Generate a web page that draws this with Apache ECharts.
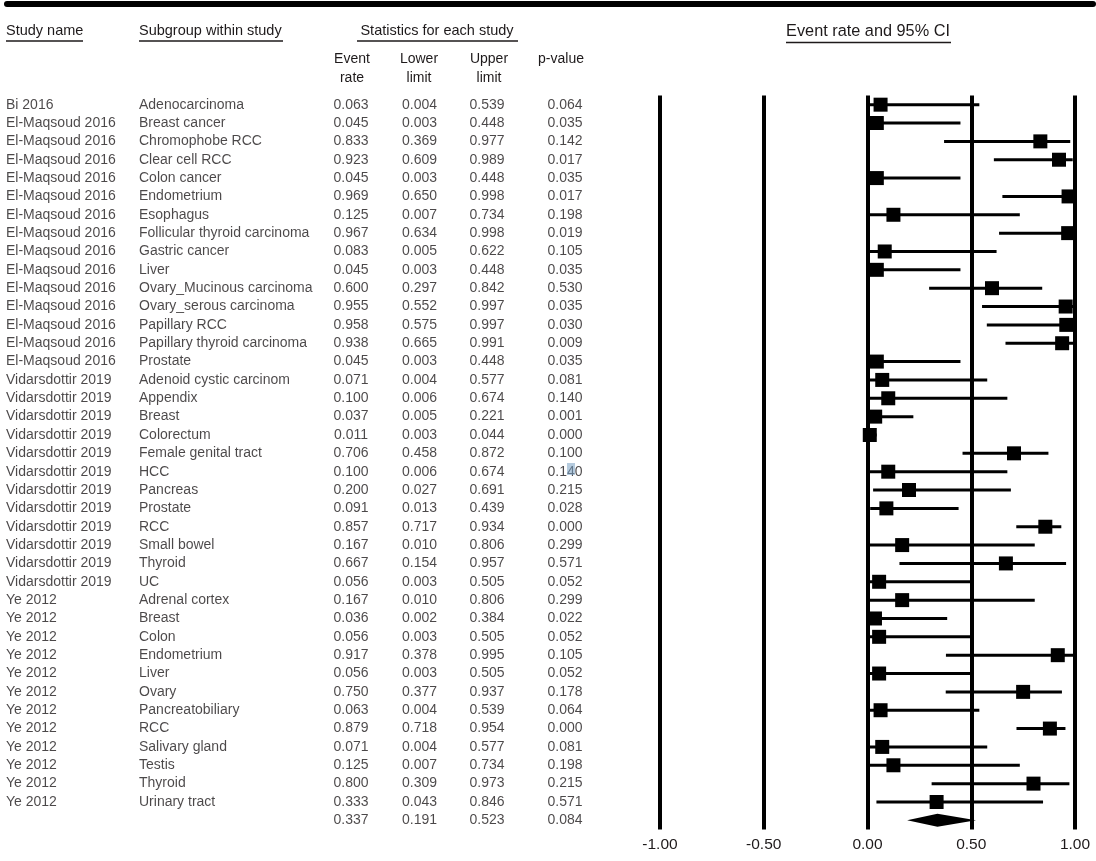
<!DOCTYPE html>
<html>
<head>
<meta charset="utf-8">
<script src="https://cdn.jsdelivr.net/npm/echarts@6/dist/echarts.min.js"></script>
<style>
html,body{margin:0;padding:0;background:#fff;}
#chart{width:1096px;height:861px;}
</style>
</head>
<body>
<div id="chart"></div>
<script>
// ---- data ----
const studyNames = [
  'Bi 2016',
  'El-Maqsoud 2016','El-Maqsoud 2016','El-Maqsoud 2016','El-Maqsoud 2016','El-Maqsoud 2016',
  'El-Maqsoud 2016','El-Maqsoud 2016','El-Maqsoud 2016','El-Maqsoud 2016','El-Maqsoud 2016',
  'El-Maqsoud 2016','El-Maqsoud 2016','El-Maqsoud 2016','El-Maqsoud 2016',
  'Vidarsdottir 2019','Vidarsdottir 2019','Vidarsdottir 2019','Vidarsdottir 2019','Vidarsdottir 2019',
  'Vidarsdottir 2019','Vidarsdottir 2019','Vidarsdottir 2019','Vidarsdottir 2019','Vidarsdottir 2019',
  'Vidarsdottir 2019','Vidarsdottir 2019',
  'Ye 2012','Ye 2012','Ye 2012','Ye 2012','Ye 2012','Ye 2012','Ye 2012','Ye 2012','Ye 2012',
  'Ye 2012','Ye 2012','Ye 2012',
  ''
];
const subgroups = [
  'Adenocarcinoma',
  'Breast cancer','Chromophobe RCC','Clear cell RCC','Colon cancer','Endometrium',
  'Esophagus','Follicular thyroid carcinoma','Gastric cancer','Liver','Ovary_Mucinous carcinoma',
  'Ovary_serous carcinoma','Papillary RCC','Papillary thyroid carcinoma','Prostate',
  'Adenoid cystic carcinom','Appendix','Breast','Colorectum','Female genital tract',
  'HCC','Pancreas','Prostate','RCC','Small bowel','Thyroid','UC',
  'Adrenal cortex','Breast','Colon','Endometrium','Liver','Ovary','Pancreatobiliary',
  'RCC','Salivary gland','Testis','Thyroid','Urinary tract',
  ''
];
const eventRate = [0.063,0.045,0.833,0.923,0.045,0.969,0.125,0.967,0.083,0.045,0.600,0.955,0.958,0.938,0.045,
  0.071,0.100,0.037,0.011,0.706,0.100,0.200,0.091,0.857,0.167,0.667,0.056,
  0.167,0.036,0.056,0.917,0.056,0.750,0.063,0.879,0.071,0.125,0.800,0.333,
  0.337];
const lowerLimit = [0.004,0.003,0.369,0.609,0.003,0.650,0.007,0.634,0.005,0.003,0.297,0.552,0.575,0.665,0.003,
  0.004,0.006,0.005,0.003,0.458,0.006,0.027,0.013,0.717,0.010,0.154,0.003,
  0.010,0.002,0.003,0.378,0.003,0.377,0.004,0.718,0.004,0.007,0.309,0.043,
  0.191];
const upperLimit = [0.539,0.448,0.977,0.989,0.448,0.998,0.734,0.998,0.622,0.448,0.842,0.997,0.997,0.991,0.448,
  0.577,0.674,0.221,0.044,0.872,0.674,0.691,0.439,0.934,0.806,0.957,0.505,
  0.806,0.384,0.505,0.995,0.505,0.937,0.539,0.954,0.577,0.734,0.973,0.846,
  0.523];
const pValue = [0.064,0.035,0.142,0.017,0.035,0.017,0.198,0.019,0.105,0.035,0.530,0.035,0.030,0.009,0.035,
  0.081,0.140,0.001,0.000,0.100,0.140,0.215,0.028,0.000,0.299,0.571,0.052,
  0.299,0.022,0.052,0.105,0.052,0.178,0.064,0.000,0.081,0.198,0.215,0.571,
  0.084];
const xTicks = [-1, -0.5, 0, 0.5, 1];

// ---- layout ----
const FONT = '"Liberation Sans", Arial, sans-serif';
const TXT = '#1e1a1b';
const nRows = eventRate.length;
const rowIdx = eventRate.map((_, i) => String(i));
const nStudies = nRows - 1;
const gridTop = 95.5, gridH = 734;

// table column anchors (x in table grid coordinates = px)
const colStudy = 6, colSub = 139, colRate = 351, colLow = 419.5, colUp = 487, colP = 565;

function textSeries(x, texts, align) {
  return {
    type: 'scatter', xAxisIndex: 1, yAxisIndex: 1, symbolSize: 0, silent: true,
    data: texts.map((t, i) => ({ value: [x, i], name: t })),
    label: {
      show: true, position: align === 'left' ? 'right' : 'inside', distance: 0,
      formatter: '{b}', color: TXT, fontFamily: FONT, fontSize: 14
    },
    emphasis: { disabled: true }, animation: false, z: 5
  };
}
const fmt3 = v => v.toFixed(3);

const chart = echarts.init(document.getElementById('chart'));
chart.setOption({
  animation: false,
  backgroundColor: '#fff',
  grid: [
    { left: 660, right: 21, top: gridTop, height: gridH },
    { left: 0, width: 620, top: gridTop, height: gridH }
  ],
  xAxis: [
    {
      gridIndex: 0, type: 'value', min: xTicks[0], max: xTicks[xTicks.length - 1], interval: 0.5,
      axisLine: { show: false }, axisTick: { show: false },
      axisLabel: { formatter: v => v.toFixed(2), color: TXT, fontFamily: FONT, fontSize: 15.5, margin: 7 },
      splitLine: { show: true, showMinLine: true, showMaxLine: true, lineStyle: { color: '#000', width: 4 } }
    },
    { gridIndex: 1, type: 'value', min: 0, max: 620, show: false, splitLine: { show: false } }
  ],
  yAxis: [
    { gridIndex: 0, type: 'category', data: rowIdx, inverse: true, show: false },
    { gridIndex: 1, type: 'category', data: rowIdx, inverse: true, show: false }
  ],
  series: [
    {
      type: 'custom', xAxisIndex: 0, yAxisIndex: 0, silent: true, z: 3,
      data: lowerLimit.slice(0, nStudies).map((l, i) => [l, upperLimit[i], i]),
      renderItem: (params, api) => {
        const a = api.coord([api.value(0), api.value(2)]);
        const b = api.coord([api.value(1), api.value(2)]);
        return { type: 'line', shape: { x1: a[0], y1: a[1], x2: b[0], y2: b[1] },
          style: { stroke: '#000', lineWidth: 3 } };
      }
    },
    {
      type: 'scatter', xAxisIndex: 0, yAxisIndex: 0, symbol: 'rect', symbolSize: 14, silent: true, z: 4,
      itemStyle: { color: '#000', opacity: 1 },
      data: eventRate.slice(0, nStudies).map((v, i) => [v, i])
    },
    {
      type: 'custom', xAxisIndex: 0, yAxisIndex: 0, silent: true, z: 4,
      data: [[lowerLimit[nStudies], eventRate[nStudies], upperLimit[nStudies], nStudies]],
      renderItem: (params, api) => {
        const y = api.value(3);
        const l = api.coord([api.value(0), y]);
        const c = api.coord([api.value(1), y]);
        const r = api.coord([api.value(2), y]);
        const h = 6.5;
        return { type: 'polygon', shape: { points: [[l[0], l[1]], [c[0], c[1] - h], [r[0], r[1]], [c[0], c[1] + h]] },
          style: { fill: '#000' } };
      }
    },
    textSeries(colStudy, studyNames, 'left'),
    textSeries(colSub, subgroups, 'left'),
    textSeries(colRate, eventRate.map(fmt3), 'center'),
    textSeries(colLow, lowerLimit.map(fmt3), 'center'),
    textSeries(colUp, upperLimit.map(fmt3), 'center'),
    textSeries(colP, pValue.map(fmt3), 'center')
  ],
  graphic: [
    { type: 'rect', shape: { x: 4, y: 1, width: 1092, height: 6, r: 3 }, style: { fill: '#000' } },
    { type: 'text', x: 6, y: 31, style: { text: 'Study name', font: '14.5px ' + FONT, fill: TXT, textVerticalAlign: 'middle' } },
    { type: 'line', shape: { x1: 6, y1: 41, x2: 83, y2: 41 }, style: { stroke: TXT, lineWidth: 1.5 } },
    { type: 'text', x: 139, y: 31, style: { text: 'Subgroup within study', font: '14.5px ' + FONT, fill: TXT, textVerticalAlign: 'middle' } },
    { type: 'line', shape: { x1: 139, y1: 41, x2: 283, y2: 41 }, style: { stroke: TXT, lineWidth: 1.5 } },
    { type: 'text', x: 437, y: 31, style: { text: 'Statistics for each study', font: '14.5px ' + FONT, fill: TXT, textAlign: 'center', textVerticalAlign: 'middle' } },
    { type: 'line', shape: { x1: 357, y1: 41, x2: 518, y2: 41 }, style: { stroke: TXT, lineWidth: 1.5 } },
    { type: 'text', x: 868, y: 32, style: { text: 'Event rate and 95% CI', font: '16.3px ' + FONT, fill: TXT, textAlign: 'center', textVerticalAlign: 'middle' } },
    { type: 'line', shape: { x1: 786, y1: 42.5, x2: 951, y2: 42.5 }, style: { stroke: TXT, lineWidth: 1.5 } },
    { type: 'text', x: 352, y: 59, style: { text: 'Event', font: '14px ' + FONT, fill: TXT, textAlign: 'center', textVerticalAlign: 'middle' } },
    { type: 'text', x: 352, y: 78, style: { text: 'rate', font: '14px ' + FONT, fill: TXT, textAlign: 'center', textVerticalAlign: 'middle' } },
    { type: 'text', x: 419, y: 59, style: { text: 'Lower', font: '14px ' + FONT, fill: TXT, textAlign: 'center', textVerticalAlign: 'middle' } },
    { type: 'text', x: 419, y: 78, style: { text: 'limit', font: '14px ' + FONT, fill: TXT, textAlign: 'center', textVerticalAlign: 'middle' } },
    { type: 'text', x: 489, y: 59, style: { text: 'Upper', font: '14px ' + FONT, fill: TXT, textAlign: 'center', textVerticalAlign: 'middle' } },
    { type: 'text', x: 489, y: 78, style: { text: 'limit', font: '14px ' + FONT, fill: TXT, textAlign: 'center', textVerticalAlign: 'middle' } },
    { type: 'text', x: 561, y: 59, style: { text: 'p-value', font: '14px ' + FONT, fill: TXT, textAlign: 'center', textVerticalAlign: 'middle' } },
    { type: 'rect', shape: { x: 567, y: 463, width: 8, height: 12 }, style: { fill: 'rgba(120,160,195,0.55)' }, z: 10 }
  ]
});
</script>
</body>
</html>
